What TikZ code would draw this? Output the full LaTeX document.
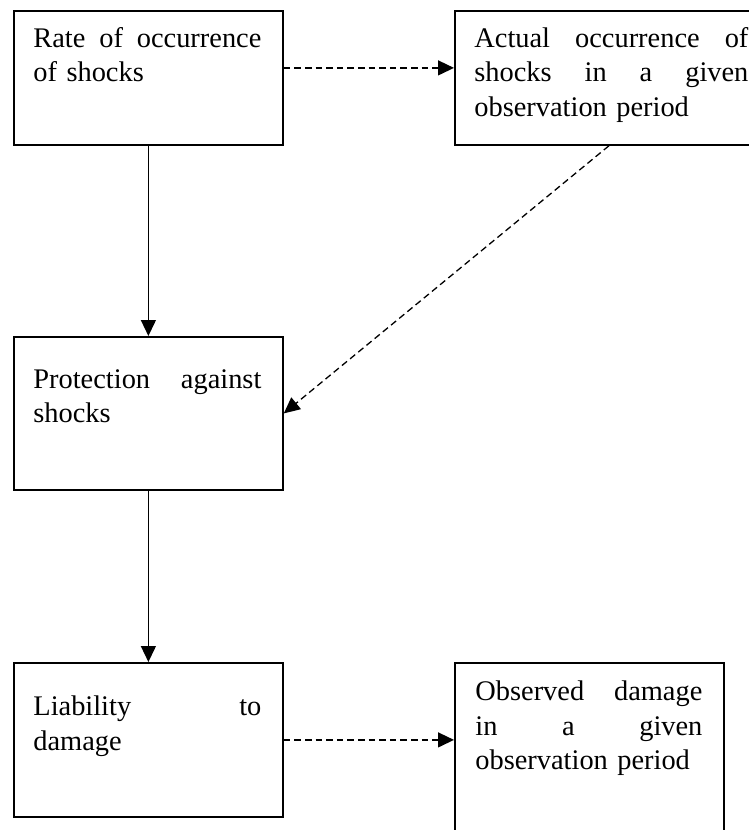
\documentclass[tikz,border=0pt]{standalone}
\usepackage{fontspec}
\setmainfont{Liberation Serif}
\usepackage{tikz}
\usetikzlibrary{positioning,arrows.meta}

\newcommand{\fullline}[2][114pt]{\makebox[#1][s]{\spaceskip=0pt\xspaceskip=0pt #2}\\}

\begin{document}
\begin{tikzpicture}[x=0.5pt, y=-0.5pt,
  box/.style={draw, line width=0.9pt, anchor=north west, inner sep=0pt,
    minimum width=134.5pt},
  txt/.style={inner sep=0pt, text width=114pt, align=left,
    font=\fontsize{14.2}{17.2}\selectfont},
  solidarrow/.style={line width=0.65pt, -{Triangle[length=8pt, width=7.5pt]}},
  dasharrow/.style={solidarrow, dash pattern=on 3.3pt off 2pt}]
\useasboundingbox (0,0) rectangle (749,830);
\clip (0,0) rectangle (749,830);

% Boxes
\node[box, minimum height=67pt] (rate) at (13,10) {};
\node[box, minimum height=67pt, minimum width=158pt] (actual) at (454,10) {};
\node[box, minimum height=76.5pt] (protect) at (13,336) {};
\node[box, minimum height=77pt] (liab) at (13,662) {};
\node[box, minimum height=100pt] (observed) at (454,662) {};

% Texts
\node[txt, below right=8.6pt and 10pt of rate.north west] (ratetxt)
  {\fullline{Rate of occurrence}of shocks};
\node[txt, text width=137pt, below right=8.6pt and 10pt of actual.north west] (actualtxt)
  {\fullline[137pt]{Actual occurrence of}\fullline[137pt]{shocks in a given}observation period};
\node[txt, below right=16.5pt and 10pt of protect.north west] (protecttxt)
  {\fullline{Protection against}shocks};
\node[txt, below right=16.8pt and 10pt of liab.north west] (liabtxt)
  {\fullline{Liability to}damage};
\node[txt, below right=9.3pt and 10.5pt of observed.north west] (observedtxt)
  {\fullline[113.5pt]{Observed damage}\fullline[113.5pt]{in a given}observation period};

% Arrows
\draw[dasharrow] ([yshift=5pt]rate.east) -- ([yshift=5pt]actual.west);
\draw[solidarrow] (rate.south) -- (protect.north);
\draw[dasharrow] ([xshift=-2pt]actual.south) -- (protect.east);
\draw[solidarrow] (protect.south) -- (liab.north);
\draw[dasharrow] (liab.east) -- (liab.east -| observed.west);

\end{tikzpicture}
\end{document}
